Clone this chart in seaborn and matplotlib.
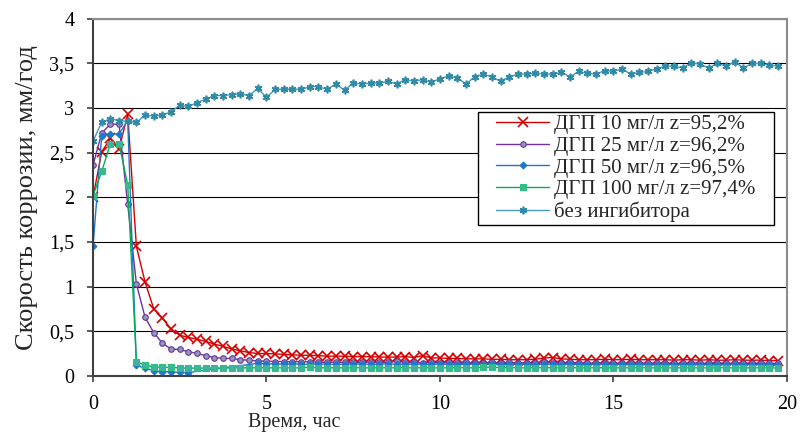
import matplotlib
matplotlib.use("Agg")
import matplotlib.pyplot as plt
from matplotlib.patches import Rectangle
import numpy as np
import pandas as pd
import seaborn as sns

# readings every 15 minutes
STEP_H = 0.25

red_10 = [2.0, 2.51, 2.66, 2.54, 2.93, 1.45, 1.05, 0.75, 0.645, 0.525, 0.455, 0.43, 0.41, 0.385, 0.355, 0.33, 0.30, 0.28, 0.26, 0.25,
          0.25, 0.245, 0.24, 0.235, 0.23, 0.23, 0.225, 0.22, 0.22, 0.22, 0.215, 0.215, 0.215, 0.21, 0.21, 0.21, 0.215, 0.205, 0.225, 0.20,
          0.20, 0.195, 0.195, 0.19, 0.19, 0.19, 0.185, 0.185, 0.18, 0.18, 0.18, 0.185, 0.20, 0.205, 0.19, 0.185,
          0.18, 0.18, 0.18, 0.185, 0.18, 0.18, 0.185, 0.18, 0.18, 0.18, 0.18, 0.175, 0.18, 0.18, 0.175, 0.18, 0.175, 0.175, 0.18, 0.175,
          0.175, 0.175, 0.17, 0.17]
purple_25 = [2.36, 2.72, 2.82, 2.82, 1.92, 1.03, 0.655, 0.485, 0.365, 0.30, 0.295, 0.27, 0.25, 0.225, 0.205, 0.195, 0.195, 0.18, 0.175, 0.165,
             0.165, 0.16, 0.16, 0.155, 0.16, 0.155, 0.155, 0.15, 0.155, 0.15, 0.15, 0.15, 0.155, 0.15, 0.15, 0.165, 0.15, 0.15, 0.145, 0.15,
             0.145, 0.15, 0.145, 0.15, 0.145, 0.145, 0.15, 0.145, 0.15, 0.145, 0.145, 0.145, 0.15, 0.145, 0.145, 0.15, 0.145, 0.145, 0.14, 0.145,
             0.145, 0.14, 0.145, 0.14, 0.145, 0.14, 0.145, 0.14, 0.14, 0.145, 0.14, 0.14, 0.145, 0.14, 0.14, 0.14, 0.145, 0.14, 0.14, 0.14]
blue_50 = [1.45, 2.69, 2.71, 2.71, 2.86, 0.12, 0.083, 0.057, 0.046, 0.046, 0.038, 0.037,
           np.nan, np.nan, np.nan, np.nan, np.nan, np.nan, np.nan,
           0.14, 0.135, 0.135, 0.13, 0.135, 0.13, 0.13, 0.135, 0.13, 0.13, 0.13, 0.135, 0.13, 0.13, 0.13, 0.135, 0.13, 0.13, 0.13, 0.13, 0.13,
           0.13, 0.13, 0.125, 0.13, 0.13, 0.13, 0.13, 0.125, 0.13, 0.13, 0.13, 0.125, 0.13, 0.13, 0.125, 0.13, 0.13, 0.125, 0.13, 0.13,
           0.125, 0.13, 0.125, 0.13, 0.125, 0.125, 0.13, 0.125, 0.125, 0.13, 0.125, 0.125, 0.125, 0.125, 0.13, 0.125, 0.125, 0.125, 0.125, 0.125]
green_100 = [2.02, 2.29, 2.60, 2.60, 2.14, 0.157, 0.12, 0.10, 0.094, 0.094, 0.088, 0.085,
             0.088, 0.085, 0.088, 0.085, 0.09, 0.088, 0.09, 0.088, 0.09, 0.088, 0.09, 0.088, 0.09, 0.095, 0.09, 0.088, 0.09, 0.088,
             0.09, 0.09, 0.088, 0.09, 0.088, 0.09, 0.09, 0.088, 0.09, 0.09, 0.088, 0.09, 0.09, 0.09, 0.088, 0.095, 0.095, 0.092, 0.09, 0.09,
             0.088, 0.09, 0.09, 0.09, 0.088, 0.09, 0.09, 0.088, 0.09, 0.09, 0.088, 0.09, 0.088, 0.09, 0.09, 0.088, 0.09, 0.088, 0.09, 0.088,
             0.09, 0.088, 0.09, 0.09, 0.088, 0.09, 0.088, 0.09, 0.088, 0.088]
no_inhib = [2.63, 2.84, 2.88, 2.86, 2.85, 2.84, 2.92, 2.91, 2.92, 2.96, 3.03, 3.02, 3.06, 3.10, 3.14, 3.14, 3.15, 3.16, 3.14, 3.22,
            3.12, 3.21, 3.21, 3.21, 3.21, 3.24, 3.24, 3.21, 3.27, 3.20, 3.28, 3.27, 3.28, 3.28, 3.30, 3.27, 3.32, 3.30, 3.32, 3.29,
            3.33, 3.36, 3.34, 3.27, 3.35, 3.38, 3.35, 3.30, 3.35, 3.38, 3.38, 3.39, 3.38, 3.38, 3.40, 3.35, 3.41, 3.39, 3.38, 3.42,
            3.41, 3.44, 3.38, 3.40, 3.41, 3.44, 3.47, 3.47, 3.45, 3.51, 3.49, 3.45, 3.50, 3.47, 3.52, 3.45, 3.50, 3.50, 3.48, 3.47]

labels = ["ДГП 10 мг/л z=95,2%", "ДГП 25 мг/л z=96,2%", "ДГП 50 мг/л z=96,5%",
          "ДГП 100 мг/л z=97,4%", "без ингибитора"]
ytick_labels = ["0", "0,5", "1", "1,5", "2", "2,5", "3", "3,5", "4"]

sns.set_theme(style="white")
plt.rcParams["font.family"] = ["Liberation Serif", "DejaVu Serif"]

fig = plt.figure(figsize=(8.02, 4.38), dpi=100)
ax = fig.add_axes([0.116, 0.142, 0.865, 0.815])

styles = [
    (red_10, dict(color="#d40000", marker="x", markersize=6.5, markeredgewidth=1.2,
                  markeredgecolor="#d40000")),
    (purple_25, dict(color="#7030a0", marker="o", markersize=4, markerfacecolor="#8a9cb4",
                     markeredgecolor="#7030a0", markeredgewidth=0.8)),
    (blue_50, dict(color="#1e78c8", marker="D", markersize=3.5, markerfacecolor="#1e78c8",
                   markeredgecolor="#1e78c8")),
    (green_100, dict(color="#00b050", marker="s", markersize=4.6, markerfacecolor="#3fb3a0",
                     markeredgecolor="#2cc07a", markeredgewidth=0.8)),
    (no_inhib, dict(color="#4a9bb8", marker=(6, 2, 0), markersize=5.5, markeredgewidth=1.2,
                    markeredgecolor="#2f8aa8")),
]
for (vals, kw), lab in zip(styles, labels):
    df = pd.DataFrame({"t": np.arange(len(vals)) * STEP_H, "v": vals})
    sns.lineplot(data=df, x="t", y="v", ax=ax, label=lab, linewidth=1.0,
                 estimator=None, sort=False, **kw)

ax.set_xlim(0, 20)
ax.set_ylim(0, 4)
ax.set_xticks([0, 5, 10, 15, 20])
ax.set_yticks(np.arange(0, 4.01, 0.5))
ax.set_yticklabels(ytick_labels)
ax.yaxis.grid(True, color="black", linewidth=0.8)
ax.xaxis.grid(False)
ax.tick_params(axis="both", direction="out", length=4.5, width=1.2, color="#404040",
               labelsize=14.5, pad=9, labelcolor="black")
ax.tick_params(axis="both", which="both", bottom=True, left=True)

for side in ["left", "bottom"]:
    ax.spines[side].set_color("#404040")
    ax.spines[side].set_linewidth(1.5)
for side in ["top", "right"]:
    ax.spines[side].set_color("#8c8c8c")
    ax.spines[side].set_linewidth(1.5)

ax.set_xlabel("Время, час", fontsize=14.5)
ax.set_ylabel("Скорость коррозии, мм/год", fontsize=19)
ax.xaxis.set_label_coords(0.29, -0.103)
ax.yaxis.set_label_coords(-0.08, 0.5)

# legend without its own frame; the white box is drawn separately (wide side padding)
leg = ax.legend(loc="center", bbox_to_anchor=(0.768, 0.581), fontsize=15,
                frameon=False, handlelength=2.5, borderpad=0.1,
                labelspacing=0.1, handletextpad=0.25)
leg.set_zorder(6)
ax.add_patch(Rectangle((0.5548, 0.4225), 0.4265, 0.3165, transform=ax.transAxes,
                       facecolor="white", edgecolor="black", linewidth=1.0,
                       zorder=5.5, clip_on=False))

fig.savefig("out.png", dpi=100)
